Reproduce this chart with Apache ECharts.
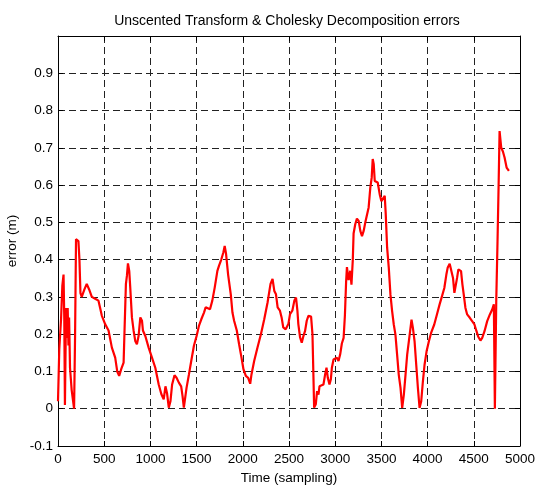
<!DOCTYPE html>
<html>
	<head>
		<meta charset="UTF-8">
		<title>Unscented Transform & Cholesky Decomposition errors</title>
		<style>
			html,body{margin:0;padding:0;background:#fff;}
			#line-char{width:536px;height:489px;}
		</style>
	</head>
	<body>
		<div id="line-char"></div>
		<script type="text/javascript" src="https://cdn.jsdelivr.net/npm/echarts@6/dist/echarts.min.js"></script>
		<script type="text/javascript">
			// sample index (x) and error in metres (y)
			var timeSamples = [
				0,8,14,33,47,60,68,75,87,96,105,113,120,130,148,174,185,195,221,232,
				243,257,275,286,311,337,366,402,438,456,474,510,547,583,619,641,662,684,710,720,
				735,746,757,771,782,800,818,836,854,872,891,909,919,945,981,1017,1053,1090,1119,1144,
				1163,1181,1199,1217,1235,1261,1283,1308,1333,1348,1362,1377,1391,1417,1442,1471,1500,1525,1551,1580,
				1598,1616,1645,1670,1696,1725,1743,1768,1790,1804,1819,1841,1870,1888,1906,1935,1960,1986,2007,2033,
				2058,2080,2094,2123,2159,2196,2232,2268,2300,2322,2341,2359,2377,2402,2420,2438,2464,2493,2511,2536,
				2558,2576,2591,2601,2620,2638,2656,2674,2692,2710,2739,2754,2764,2772,2790,2804,2819,2830,2848,2873,
				2891,2906,2920,2938,2953,2964,2982,3000,3018,3036,3054,3072,3091,3105,3118,3127,3145,3163,3176,3190,
				3199,3217,3235,3254,3272,3290,3308,3326,3344,3362,3380,3395,3406,3417,3428,3442,3460,3482,3500,3518,
				3536,3547,3562,3580,3598,3616,3634,3652,3670,3688,3707,3725,3743,3761,3779,3797,3815,3826,3841,3859,
				3877,3895,3913,3931,3949,3967,3989,4014,4040,4072,4101,4130,4156,4181,4203,4217,4239,4257,4275,4290,
				4304,4319,4333,4348,4362,4377,4391,4409,4428,4457,4482,4507,4529,4547,4572,4591,4616,4645,4674,4699,
				4717,4728,4743,4756,4768,4779,4797,4815,4833,4855,4880
			];
			var errorValues = [
				0.02,0.10,0.16,0.24,0.33,0.36,0.24,0.01,0.27,0.19,0.27,0.17,0.245,0.11,0.05,0.0,0.20,0.455,0.45,0.40,
				0.31,0.30,0.295,0.32,0.335,0.32,0.30,0.295,0.29,0.27,0.25,0.227,0.21,0.164,0.137,0.10,0.088,0.106,0.124,0.21,
				0.335,0.357,0.39,0.37,0.325,0.245,0.21,0.182,0.173,0.195,0.245,0.236,0.21,0.195,0.164,0.137,0.11,0.065,0.039,0.025,
				0.06,0.04,0.003,0.02,0.065,0.09,0.083,0.07,0.06,0.034,0.003,0.007,0.056,0.092,0.128,0.169,0.195,0.222,0.24,0.258,
				0.272,0.267,0.267,0.29,0.325,0.37,0.384,0.401,0.42,0.437,0.415,0.36,0.307,0.258,0.236,0.21,0.173,0.137,0.106,0.088,
				0.083,0.067,0.092,0.128,0.164,0.2,0.24,0.285,0.335,0.348,0.316,0.307,0.272,0.263,0.245,0.218,0.213,0.227,0.254,0.263,
				0.29,0.298,0.263,0.227,0.191,0.177,0.195,0.209,0.236,0.249,0.247,0.2,0.092,0.003,0.012,0.047,0.038,0.06,0.056,0.065,
				0.092,0.11,0.083,0.065,0.079,0.11,0.132,0.128,0.137,0.128,0.146,0.175,0.19,0.25,0.34,0.38,0.345,0.37,0.333,0.397,
				0.47,0.495,0.51,0.504,0.477,0.463,0.477,0.5,0.504,0.54,0.593,0.62,0.67,0.656,0.611,0.616,0.607,0.575,0.557,0.557,
				0.571,0.522,0.432,0.378,0.306,0.262,0.226,0.199,0.145,0.091,0.056,0.002,0.038,0.091,0.145,0.181,0.217,0.239,0.217,0.181,
				0.118,0.056,0.002,0.02,0.073,0.118,0.154,0.181,0.205,0.226,0.253,0.28,0.302,0.324,0.36,0.378,0.389,0.392,0.351,0.311,
				0.307,0.351,0.374,0.378,0.369,0.333,0.307,0.271,0.253,0.244,0.235,0.226,0.208,0.194,0.183,0.19,0.208,0.235,0.253,0.266,
				0.28,0.0,0.29,0.44,0.593,0.745,0.70,0.69,0.674,0.647,0.638
			];

			var fontFamily = '"Liberation Sans", Arial, sans-serif';

			function errorChart(){
				var charContent = document.getElementById('line-char');
				var lineChar = echarts.init(charContent);
				var points = [];
				for (var i = 0; i < timeSamples.length; i++) {
					points.push([timeSamples[i], errorValues[i]]);
				}
				var gridDash = {
					show: true,
					lineStyle: {
						color: "#222",
						width: 1,
						type: [7, 4]
					}
				};
				var options = {
					animation: false,
					backgroundColor: "#fff",
					title: {
						text: "Unscented Transform & Cholesky Decomposition errors",
						left: 282,
						textAlign: "center",
						top: 9,
						textStyle: {
							color: "#000",
							fontFamily: fontFamily,
							fontSize: 14,
							fontWeight: "normal"
						}
					},
					grid: {
						left: 58,
						right: 16,
						top: 36,
						bottom: 43,
						outerBoundsMode: 'none',
						containLabel: false
					},
					xAxis: [{
						type: 'value',
						min: 0,
						max: 5000,
						interval: 500,
						name: "Time (sampling)",
						nameLocation: "middle",
						nameGap: 21,
						nameTextStyle: {
							color: "#000",
							fontFamily: fontFamily,
							fontSize: 13.5,
							verticalAlign: "top"
						},
						axisLine: {onZero: false, lineStyle: {color: "#000", width: 1}},
						axisTick: {inside: true, length: 5, lineStyle: {color: "#000"}},
						axisLabel: {
							color: "#000",
							fontFamily: fontFamily,
							fontSize: 13.5,
							margin: 6,
							formatter: function(v){ return String(v); }
						},
						splitLine: gridDash
					}, {
						type: 'value',
						position: 'top',
						min: 0,
						max: 5000,
						interval: 500,
						axisLine: {onZero: false, lineStyle: {color: "#000", width: 1}},
						axisTick: {inside: true, length: 5, lineStyle: {color: "#000"}},
						axisLabel: {show: false},
						splitLine: {show: false}
					}],
					yAxis: [{
						type: 'value',
						min: -0.1,
						max: 1,
						interval: 0.1,
						name: "error (m)",
						nameLocation: "middle",
						nameGap: 38,
						nameTextStyle: {
							color: "#000",
							fontFamily: fontFamily,
							fontSize: 13.5
						},
						axisLine: {onZero: false, lineStyle: {color: "#000", width: 1}},
						axisTick: {inside: true, length: 5, lineStyle: {color: "#000"}},
						axisLabel: {
							color: "#000",
							fontFamily: fontFamily,
							fontSize: 13.5,
							margin: 5,
							formatter: function(v){
								if (v > 0.95) return '';
								return String(Math.round(v * 10) / 10);
							}
						},
						splitLine: gridDash
					}, {
						type: 'value',
						position: 'right',
						min: -0.1,
						max: 1,
						interval: 0.1,
						axisLine: {onZero: false, lineStyle: {color: "#000", width: 1}},
						axisTick: {inside: true, length: 5, lineStyle: {color: "#000"}},
						axisLabel: {show: false},
						splitLine: {show: false}
					}],
					series: [{
						type: 'line',
						data: points,
						xAxisIndex: 0,
						yAxisIndex: 0,
						showSymbol: false,
						lineStyle: {color: "#ff0000", width: 2.2},
						z: 5
					}]
				};
				lineChar.setOption(options);
			}
			errorChart();
		</script>
	</body>
</html>
